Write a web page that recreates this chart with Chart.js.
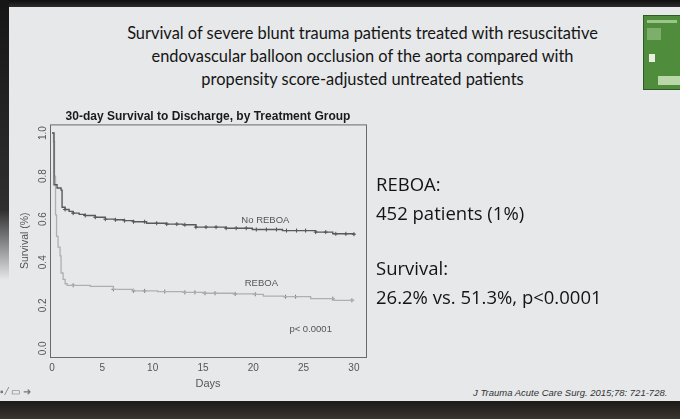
<!DOCTYPE html>
<html>
<head>
<meta charset="utf-8">
<script src="https://cdn.jsdelivr.net/npm/chart.js@4.4.0/dist/chart.umd.min.js"></script>
<style>
    html, body { margin: 0; padding: 0; }
    body { width: 680px; height: 419px; position: relative; overflow: hidden; background: #e6e8ea; font-family: "Liberation Sans", Arial, sans-serif; }
    .frame-top { position: absolute; left: 0; top: 0; width: 680px; height: 7px; background: linear-gradient(#0e0e0e, #2c2c2c); }
    .frame-left { position: absolute; left: 0; top: 0; width: 9px; height: 280px; background: linear-gradient(#161616, #2f2f2f 75%, rgba(80, 80, 80, 0)); }
    .frame-bottom { position: absolute; left: 0; top: 401px; width: 680px; height: 18px; background: linear-gradient(#1c1a18, #3a342e); }
    .slide-title { position: absolute; left: 90px; width: 545px; top: 21px; text-align: center; font-family: Lato, sans-serif; font-size: 16.4px; line-height: 23px; color: #151515; }
    .cover { position: absolute; left: 643px; top: 15px; width: 40px; height: 73px; background: #4f8d3c; border: 1px solid #2f5c25; }
    .cover span { position: absolute; background: #9cc58a; }
    .side { position: absolute; left: 376px; font-family: "Open Sans", sans-serif; font-size: 18.5px; color: #141414; white-space: nowrap; }
    .cite { position: absolute; left: 473px; top: 387px; font-style: italic; font-size: 9.5px; color: #333; white-space: nowrap; }
    .nav { position: absolute; left: 0; top: 386px; font-size: 10px; color: #777; }
    #chart-wrap { position: absolute; left: 0; top: 100px; width: 380px; height: 300px; }
</style>
</head>
<body>
<div class="frame-top"></div>
<div class="frame-left"></div>
<div class="slide-title">Survival of severe blunt trauma patients treated with resuscitative<br>endovascular balloon occlusion of the aorta compared with<br>propensity score-adjusted untreated patients</div>
<div class="cover"><span style="left:3px;top:4px;width:30px;height:3px"></span><span style="left:3px;top:12px;width:14px;height:12px;opacity:.6"></span><span style="left:5px;top:38px;width:6px;height:8px;background:#e8eee0"></span><span style="left:14px;top:60px;width:26px;height:9px;background:#b9d7a8"></span></div>
<div id="chart-wrap"><canvas id="kmChart"></canvas></div>
<div class="side" style="top:171px">REBOA:</div>
<div class="side" style="top:200px">452 patients (1%)</div>
<div class="side" style="top:255px">Survival:</div>
<div class="side" style="top:284px">26.2% vs. 51.3%, p&lt;0.0001</div>
<div class="cite">J Trauma Acute Care Surg. 2015;78: 721-728.</div>
<div class="nav">▪ ⁄ ▭ ➜</div>
<div class="frame-bottom"></div>
<script>
// Kaplan-Meier steps
const noReboaDays = [0, 0.2, 0.5, 0.9, 1.0, 1.3, 1.7, 2.1, 2.7, 3.3, 4.3, 5.3, 6.3, 7.2, 8.1, 9.4, 11.4, 13.0, 14.3, 17.3, 19.9, 22.9, 26.2, 27.9, 30];
const noReboaSurv = [1.0, 0.76, 0.745, 0.735, 0.655, 0.645, 0.636, 0.628, 0.622, 0.617, 0.609, 0.600, 0.597, 0.593, 0.588, 0.581, 0.577, 0.574, 0.563, 0.558, 0.552, 0.547, 0.540, 0.532, 0.530];
const reboaDays = [0, 0.15, 0.25, 0.35, 0.45, 0.6, 0.8, 0.9, 1.1, 1.3, 1.5, 3.8, 6.1, 8.1, 10.5, 13.0, 15.0, 18.0, 20.0, 21.0, 23.0, 25.7, 28.0, 30];
const reboaSurv = [1.0, 0.96, 0.80, 0.62, 0.52, 0.47, 0.43, 0.35, 0.32, 0.30, 0.293, 0.288, 0.274, 0.267, 0.264, 0.260, 0.256, 0.253, 0.251, 0.243, 0.240, 0.231, 0.223, 0.222];
// censoring marks (days)
const noReboaCensor = [1.3, 2.1, 3.3, 4.3, 5.3, 6.3, 7.2, 8.1, 9.2, 10.4, 11.4, 12.4, 13.2, 14.3, 15.3, 16.3, 17.3, 18.3, 19.3, 20.3, 21.3, 22.3, 23.3, 24.3, 25.2, 26.2, 27.2, 28.2, 29.2, 30];
const reboaCensor = [2.1, 6.1, 8.1, 9.2, 11.2, 13.2, 14.2, 15.2, 16.2, 18.2, 20.2, 23.2, 24.2, 27.9, 29.8];
const xTicks = [0, 5, 10, 15, 20, 25, 30];
const yTicks = [0, 0.2, 0.4, 0.6, 0.8, 1.0];
const yTickLabels = ["0.0", "0.2", "0.4", "0.6", "0.8", "1.0"];
const curveLabels = [
    { text: "No REBOA", x: 21.2, y: 0.595 },
    { text: "REBOA", x: 20.8, y: 0.30 },
    { text: "p< 0.0001", x: 25.7, y: 0.087 },
];

// survival value the curve holds at day t
const stepAt = (days, surv, t) => {
    let s = surv[0];
    days.forEach((d, i) => { if (d <= t) s = surv[i]; });
    return s;
};
const toPoints = (days, surv) => days.map((d, i) => ({ x: d, y: surv[i] }));
const censorPoints = (marks, days, surv) => marks.map((t) => ({ x: t, y: stepAt(days, surv, t) }));

const boxPlugin = {
    id: "box",
    afterDraw(chart) {
        const { ctx, chartArea: a, scales } = chart;
        ctx.save();
        ctx.strokeStyle = "#6a6a6a";
        ctx.lineWidth = 1;
        ctx.strokeRect(a.left + 0.5, a.top + 0.5, a.right - a.left, a.bottom - a.top);
        ctx.fillStyle = "#555";
        ctx.font = "9.5px 'Liberation Sans', Arial, sans-serif";
        ctx.textAlign = "center";
        ctx.textBaseline = "middle";
        curveLabels.forEach((l) => {
            ctx.fillText(l.text, scales.x.getPixelForValue(l.x), scales.y.getPixelForValue(l.y));
        });
        ctx.restore();
    },
};

const tickFont = { family: "'Liberation Sans', Arial, sans-serif", size: 10 };

new Chart(document.getElementById("kmChart"), {
    type: "line",
    data: {
        datasets: [
            { label: "No REBOA", data: toPoints(noReboaDays, noReboaSurv), stepped: true, borderColor: "#595959", borderWidth: 1.4, pointRadius: 0 },
            { label: "REBOA", data: toPoints(reboaDays, reboaSurv), stepped: true, borderColor: "#afafaf", borderWidth: 1.3, pointRadius: 0 },
            { label: "No REBOA censored", data: censorPoints(noReboaCensor, noReboaDays, noReboaSurv), showLine: false, pointStyle: "cross", pointRadius: 2, borderColor: "#4d4d4d", borderWidth: 1 },
            { label: "REBOA censored", data: censorPoints(reboaCensor, reboaDays, reboaSurv), showLine: false, pointStyle: "cross", pointRadius: 2, borderColor: "#7d7d7d", borderWidth: 1 },
        ],
    },
    options: {
        responsive: true,
        maintainAspectRatio: false,
        animation: false,
        layout: { padding: { left: 19, right: 14, top: 0, bottom: 0 } },
        plugins: {
            legend: { display: false },
            tooltip: { enabled: false },
            title: {
                display: true,
                fullSize: false,
                text: "30-day Survival to Discharge, by Treatment Group",
                color: "#1a1a1a",
                font: { family: "'Liberation Sans', Arial, sans-serif", size: 12, weight: "bold" },
                padding: { top: 9, bottom: 1 },
            },
        },
        scales: {
            x: {
                type: "linear",
                min: -0.2,
                max: 31.2,
                afterBuildTicks: (s) => { s.ticks = xTicks.map((v) => ({ value: v })); },
                afterFit: (s) => { s.height = 43; },
                grid: { display: false, drawTicks: false },
                border: { display: false },
                ticks: { color: "#555", font: tickFont, padding: 5, maxRotation: 0 },
                title: { display: true, text: "Days", color: "#555", font: { family: "'Liberation Sans', Arial, sans-serif", size: 11 }, padding: { top: 0, bottom: 9 } },
            },
            y: {
                min: -0.04,
                max: 1.04,
                afterBuildTicks: (s) => { s.ticks = yTicks.map((v) => ({ value: v })); },
                afterFit: (s) => { s.width = 31; },
                grid: { display: false, drawTicks: false },
                border: { display: false },
                ticks: { color: "#555", font: tickFont, padding: 0, minRotation: 90, maxRotation: 90, crossAlign: "center", callback: (v, i) => yTickLabels[i] },
                title: { display: true, text: "Survival (%)", color: "#555", font: { family: "'Liberation Sans', Arial, sans-serif", size: 10.5 }, padding: 0 },
            },
        },
    },
    plugins: [boxPlugin],
});
</script>
</body>
</html>
